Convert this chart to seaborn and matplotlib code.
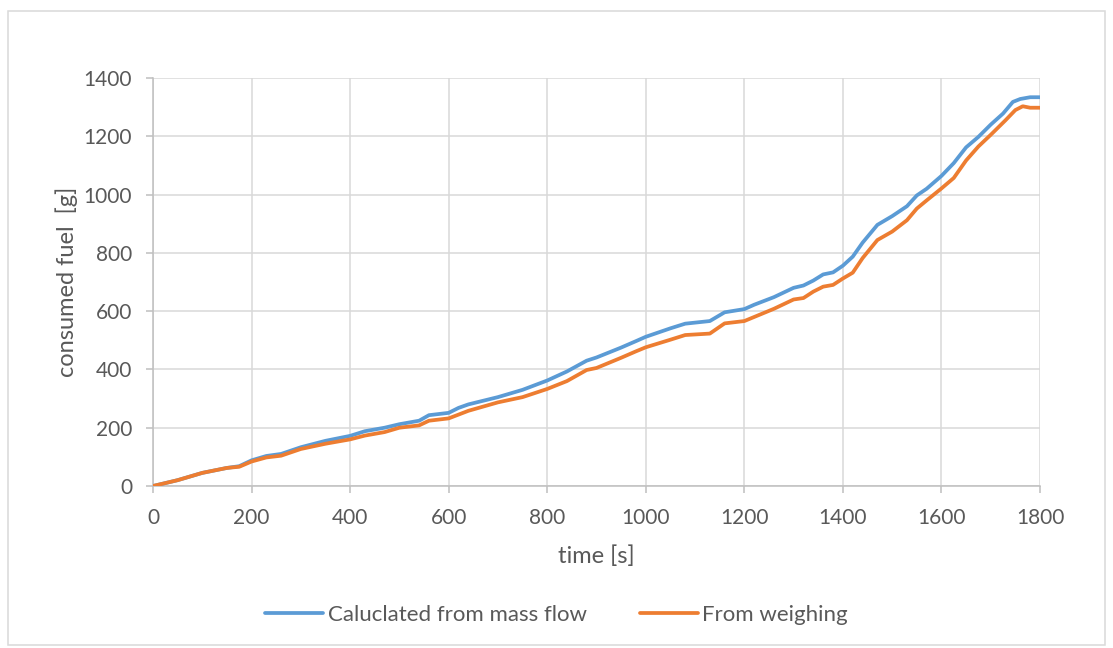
import matplotlib
matplotlib.use("Agg")
import matplotlib.pyplot as plt
from matplotlib.patches import Rectangle
import seaborn as sns
import pandas as pd

# time [s] and consumed fuel [g] for both measurement methods
t_mass_flow = [0, 50, 100, 150, 175, 200, 230, 260, 300, 350, 400, 430, 470, 500,
               540, 560, 600, 620, 640, 700, 750, 800, 840, 880, 900, 950, 980, 1000,
               1050, 1080, 1130, 1160, 1200, 1220, 1260, 1300, 1320, 1340, 1360, 1380,
               1400, 1420, 1440, 1470, 1500, 1530, 1550, 1570, 1600, 1625, 1650, 1675,
               1700, 1725, 1745, 1760, 1780, 1800]
fuel_mass_flow = [0, 20, 45, 62, 68, 88, 103, 110, 133, 155, 172, 188, 200, 212,
                  224, 243, 251, 268, 280, 305, 330, 362, 393, 430, 441, 475, 497, 512,
                  541, 557, 566, 596, 607, 622, 648, 680, 688, 705, 726, 733,
                  756, 787, 835, 896, 926, 960, 997, 1020, 1064, 1108, 1162, 1198,
                  1240, 1278, 1318, 1328, 1334, 1334]

t_weighing = [0, 50, 100, 150, 175, 200, 230, 260, 300, 350, 400, 430, 470, 500,
              540, 560, 600, 620, 640, 700, 750, 800, 840, 880, 900, 950, 980, 1000,
              1050, 1080, 1130, 1160, 1200, 1220, 1260, 1300, 1320, 1340, 1360, 1380,
              1400, 1420, 1440, 1470, 1500, 1530, 1550, 1570, 1600, 1625, 1650, 1675,
              1700, 1730, 1750, 1765, 1780, 1800]
fuel_weighing = [0, 20, 45, 62, 66, 84, 98, 104, 127, 145, 160, 173, 185, 200,
                 208, 224, 232, 245, 258, 287, 305, 333, 360, 398, 405, 440, 462, 476,
                 502, 518, 523, 558, 566, 580, 608, 640, 645, 667, 684, 690,
                 712, 732, 782, 844, 873, 912, 952, 980, 1021, 1057, 1117, 1165,
                 1205, 1255, 1290, 1303, 1298, 1298]

series_names = ["Caluclated from mass flow", "From weighing"]
series_colors = ["#5B9BD5", "#ED7D31"]
x_ticks = [0, 200, 400, 600, 800, 1000, 1200, 1400, 1600, 1800]
y_ticks = [0, 200, 400, 600, 800, 1000, 1200, 1400]

df = pd.concat([
    pd.DataFrame({"time": t_mass_flow, "fuel": fuel_mass_flow, "series": series_names[0]}),
    pd.DataFrame({"time": t_weighing, "fuel": fuel_weighing, "series": series_names[1]}),
], ignore_index=True)

sns.set_theme(style="white")
plt.rcParams["font.family"] = ["Lato", "DejaVu Sans"]

fig = plt.figure(figsize=(11.13, 6.48), dpi=100)
ax = fig.add_axes([153 / 1113, 1 - 486 / 648, (1040 - 153) / 1113, (486 - 78) / 648])

sns.lineplot(data=df, x="time", y="fuel", hue="series", hue_order=series_names,
             palette=series_colors, linewidth=2.7, legend=False, ax=ax, zorder=3)

grid_c = "#D9D9D9"
axis_c = "#BFBFBF"
text_c = "#595959"

ax.set_xlim(0, 1800)
ax.set_ylim(0, 1400)
ax.set_xticks(x_ticks)
ax.set_yticks(y_ticks)
ax.grid(True, color=grid_c, linewidth=1.1, zorder=0)
ax.set_axisbelow(True)
for side in ["top", "right"]:
    ax.spines[side].set_visible(False)
for side in ["left", "bottom"]:
    ax.spines[side].set_color(axis_c)
    ax.spines[side].set_linewidth(1.1)
ax.tick_params(axis="both", which="major", direction="out", length=5, width=1.1,
               color=axis_c, labelcolor=text_c, labelsize=15, left=True, bottom=True)
ax.tick_params(axis="y", pad=10)
ax.tick_params(axis="x", pad=11)
ax.set_xlabel("time [s]", fontsize=17, color=text_c, labelpad=12)
ax.set_ylabel("consumed fuel  [g]", fontsize=17, color=text_c, labelpad=4)

# legend below the plot area
handles = ax.get_lines()[:2]
fig.legend(handles, series_names, loc="center", bbox_to_anchor=(0.5, 1 - 615 / 648),
           ncol=2, frameon=False, fontsize=16, handlelength=2.6, handletextpad=0.2,
           columnspacing=2.4, labelcolor=text_c)

# chart area border
fig.patches.append(Rectangle((8 / 1113, 1 - 645 / 648), (1105 - 8) / 1113, (645 - 11) / 648,
                             transform=fig.transFigure, fill=False, edgecolor=grid_c,
                             linewidth=1.1))

fig.savefig("out.png", dpi=100)
